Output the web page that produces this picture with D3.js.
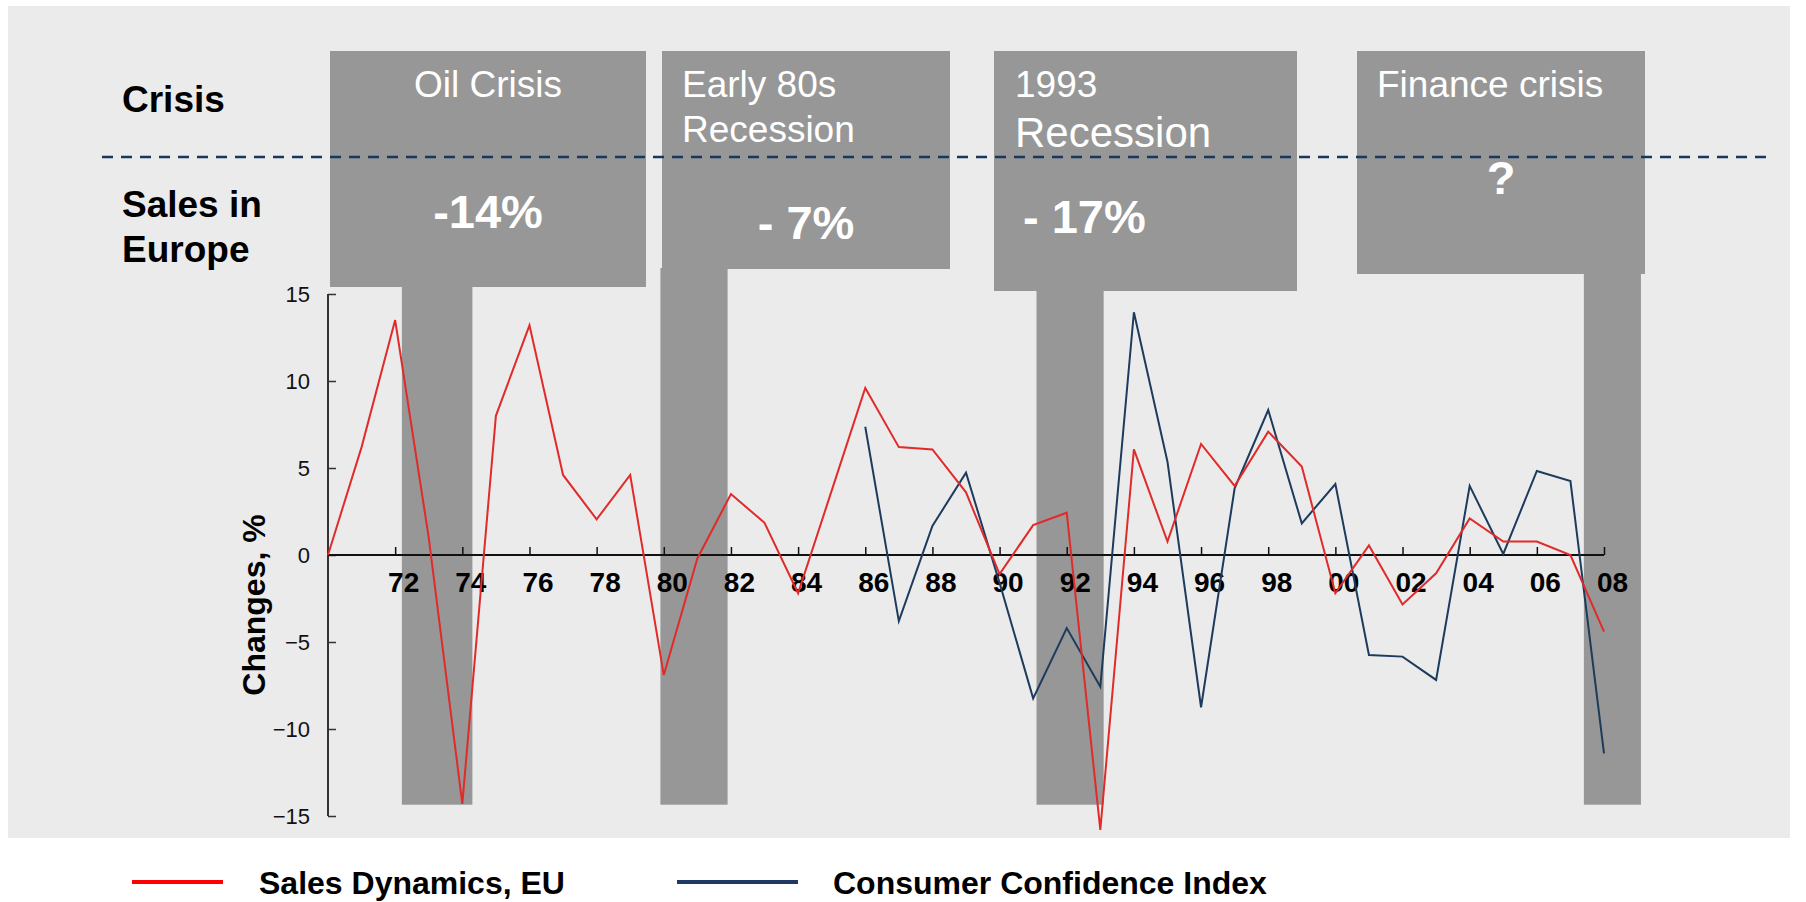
<!DOCTYPE html>
<html>
<head>
<meta charset="utf-8">
<script src="https://cdn.jsdelivr.net/npm/d3@7/dist/d3.min.js"></script>
<style>
    body { margin: 0; background: #fff; }
    text { font-family: Arial, "Liberation Sans", sans-serif; }
</style>
</head>
<body>
<div id="chart"></div>
<script>
// yearly change in %
var years = [1970, 1971, 1972, 1973, 1974, 1975, 1976, 1977, 1978, 1979,
    1980, 1981, 1982, 1983, 1984, 1985, 1986, 1987, 1988, 1989,
    1990, 1991, 1992, 1993, 1994, 1995, 1996, 1997, 1998, 1999,
    2000, 2001, 2002, 2003, 2004, 2005, 2006, 2007, 2008];
var salesDynamics = [0, 6.2, 13.5, 1.0, -14.3, 8.0, 13.2, 4.6, 2.05, 4.6,
    -6.9, -0.2, 3.5, 1.85, -2.2, 3.7, 9.6, 6.2, 6.07, 3.6,
    -1.1, 1.72, 2.43, -15.8, 6.07, 0.77, 6.38, 3.97, 7.09, 5.08,
    -2.2, 0.55, -2.84, -1.05, 2.1, 0.77, 0.77, 0.0, -4.4];

var confidenceYears = [1986, 1987, 1988, 1989, 1990, 1991, 1992, 1993, 1994, 1995,
    1996, 1997, 1998, 1999, 2000, 2001, 2002, 2003, 2004, 2005,
    2006, 2007, 2008];
var confidenceIndex = [7.37, -3.8, 1.67, 4.73, -1.6, -8.24, -4.2, -7.57, 13.95, 5.36,
    -8.75, 3.83, 8.33, 1.82, 4.08, -5.75, -5.84, -7.18, 3.97, 0.06,
    4.83, 4.25, -11.4];

var crisisNames = ["Oil Crisis", "Early 80s|Recession", "1993|Recession", "Finance crisis"];
var crisisSales = ["-14%", "- 7%", "- 17%", "?"];
var crisisStart = [1972.2, 1979.9, 1991.1, 2007.4];
var crisisEnd = [1974.3, 1981.9, 1993.1, 2009.1];

var xTicks = [1972, 1974, 1976, 1978, 1980, 1982, 1984, 1986, 1988, 1990,
    1992, 1994, 1996, 1998, 2000, 2002, 2004, 2006, 2008];
var yTicks = [-15, -10, -5, 0, 5, 10, 15];

var seriesNames = ["Sales Dynamics, EU", "Consumer Confidence Index"];

(function () {
    var width = 1806,
        height = 902;

    var boxGray = "#979797";
    var redLine = "#e12a2a",
        blueLine = "#1d3b5c";

    var x = d3.scaleLinear().domain([1970, 2008]).range([328, 1604]);
    var y = d3.scaleLinear().domain([-15, 15]).range([816, 294]);

    var svg = d3.select("#chart")
        .append("svg")
        .attr("width", width)
        .attr("height", height);

    // slide background
    svg.append("rect")
        .attr("x", 8).attr("y", 6)
        .attr("width", 1782).attr("height", 832)
        .attr("fill", "#ebebeb");

    // header boxes for every crisis (layout of the slide, not data)
    var headers = [
        {x0: 330, x1: 646, bottom: 287, anchor: "middle", tx: 488, sizes: [37], base: [97], px: 488, pAnchor: "middle", pBase: 228},
        {x0: 662, x1: 950, bottom: 269, anchor: "start", tx: 682, sizes: [37, 37], base: [97, 142], px: 806, pAnchor: "middle", pBase: 239},
        {x0: 994, x1: 1297, bottom: 291, anchor: "start", tx: 1015, sizes: [37, 42], base: [97, 147], px: 1023, pAnchor: "start", pBase: 233},
        {x0: 1357, x1: 1645, bottom: 274, anchor: "start", tx: 1377, sizes: [37], base: [97], px: 1501, pAnchor: "middle", pBase: 194}
    ];

    var crises = crisisNames.map(function (name, i) {
        return {
            lines: name.split("|"),
            sales: crisisSales[i],
            start: crisisStart[i],
            end: crisisEnd[i],
            box: headers[i]
        };
    });

    // shaded crisis periods on the time axis
    svg.selectAll(".crisis-bar")
        .data(crises)
        .enter().append("rect")
        .attr("class", "crisis-bar")
        .attr("x", function (d) { return x(d.start); })
        .attr("width", function (d) { return x(d.end) - x(d.start); })
        .attr("y", function (d) { return d.box.bottom - 1; })
        .attr("height", function (d) { return y(-14.35) - d.box.bottom + 1; })
        .attr("fill", boxGray);

    svg.selectAll(".crisis-box")
        .data(crises)
        .enter().append("rect")
        .attr("class", "crisis-box")
        .attr("x", function (d) { return d.box.x0; })
        .attr("y", 51)
        .attr("width", function (d) { return d.box.x1 - d.box.x0; })
        .attr("height", function (d) { return d.box.bottom - 51; })
        .attr("fill", boxGray);

    // crisis titles
    crises.forEach(function (d) {
        d.lines.forEach(function (line, j) {
            svg.append("text")
                .attr("x", d.box.tx)
                .attr("y", d.box.base[j])
                .attr("text-anchor", d.box.anchor)
                .attr("fill", "#fff")
                .style("font-size", d.box.sizes[j] + "px")
                .text(line);
        });
        svg.append("text")
            .attr("x", d.box.px)
            .attr("y", d.box.pBase)
            .attr("text-anchor", d.box.pAnchor)
            .attr("fill", "#fff")
            .style("font-size", "47px")
            .style("font-weight", "bold")
            .style("white-space", "pre")
            .text(d.sales);
    });

    // row labels
    svg.append("text")
        .attr("x", 122).attr("y", 112)
        .style("font-size", "37px").style("font-weight", "bold")
        .text("Crisis");
    svg.append("text")
        .attr("x", 122).attr("y", 217)
        .style("font-size", "37px").style("font-weight", "bold")
        .text("Sales in");
    svg.append("text")
        .attr("x", 122).attr("y", 262)
        .style("font-size", "37px").style("font-weight", "bold")
        .text("Europe");

    // dashed separator
    svg.append("line")
        .attr("x1", 102).attr("x2", 1766)
        .attr("y1", 157).attr("y2", 157)
        .attr("stroke", "#17375e")
        .attr("stroke-width", 2.5)
        .attr("stroke-dasharray", "11,8");

    // y axis
    var yAxis = d3.axisRight(y)
        .tickValues(yTicks)
        .tickSize(8)
        .tickFormat(d3.format("d"));
    var gy = svg.append("g")
        .attr("transform", "translate(" + x(1970) + ",0)")
        .call(yAxis);
    gy.select(".domain").attr("stroke", "#333").attr("stroke-width", 2)
        .attr("d", "M0," + y(15) + "V" + y(-15));
    gy.selectAll(".tick line").attr("stroke", "#333").attr("stroke-width", 1.5);
    gy.selectAll(".tick text")
        .attr("x", -18)
        .attr("text-anchor", "end")
        .attr("fill", "#111")
        .style("font-size", "22px")
        .style("font-family", "Arial, 'Liberation Sans', sans-serif");

    // x axis along zero
    var xAxis = d3.axisTop(x)
        .tickValues(xTicks)
        .tickSize(8)
        .tickFormat(function (d) { return d3.format("02d")(d % 100); });
    var gx = svg.append("g")
        .attr("transform", "translate(0," + y(0) + ")")
        .call(xAxis);
    gx.select(".domain").attr("stroke", "#111").attr("stroke-width", 2)
        .attr("d", "M" + x(1970) + ",0H" + x(2008));
    gx.selectAll(".tick line").attr("stroke", "#111").attr("stroke-width", 1.5);
    gx.selectAll(".tick text")
        .attr("y", 37)
        .attr("dy", 0)
        .attr("dx", 8)
        .attr("fill", "#000")
        .style("font-size", "28px")
        .style("font-weight", "bold")
        .style("font-family", "Arial, 'Liberation Sans', sans-serif");

    svg.append("text")
        .attr("transform", "translate(265,605) rotate(-90)")
        .attr("text-anchor", "middle")
        .style("font-size", "32px")
        .style("font-weight", "bold")
        .text("Changes, %");

    // series
    var line = d3.line()
        .x(function (d) { return x(d[0]); })
        .y(function (d) { return y(d[1]); });

    var sales = years.map(function (yr, i) { return [yr, salesDynamics[i]]; });
    var confidence = confidenceYears.map(function (yr, i) { return [yr, confidenceIndex[i]]; });

    svg.append("path")
        .datum(confidence)
        .attr("fill", "none")
        .attr("stroke", blueLine)
        .attr("stroke-width", 2)
        .attr("d", line);

    svg.append("path")
        .datum(sales)
        .attr("fill", "none")
        .attr("stroke", redLine)
        .attr("stroke-width", 2)
        .attr("d", line);

    // legend
    var legend = [
        {name: seriesNames[0], color: "#ff0000", x1: 132, x2: 223, tx: 259},
        {name: seriesNames[1], color: "#1f3864", x1: 677, x2: 798, tx: 833}
    ];
    var lg = svg.selectAll(".legend")
        .data(legend)
        .enter().append("g")
        .attr("class", "legend");
    lg.append("line")
        .attr("x1", function (d) { return d.x1; })
        .attr("x2", function (d) { return d.x2; })
        .attr("y1", 882).attr("y2", 882)
        .attr("stroke", function (d) { return d.color; })
        .attr("stroke-width", 4);
    lg.append("text")
        .attr("x", function (d) { return d.tx; })
        .attr("y", 894)
        .style("font-size", "32px")
        .style("font-weight", "bold")
        .text(function (d) { return d.name; });
})();
</script>
</body>
</html>
